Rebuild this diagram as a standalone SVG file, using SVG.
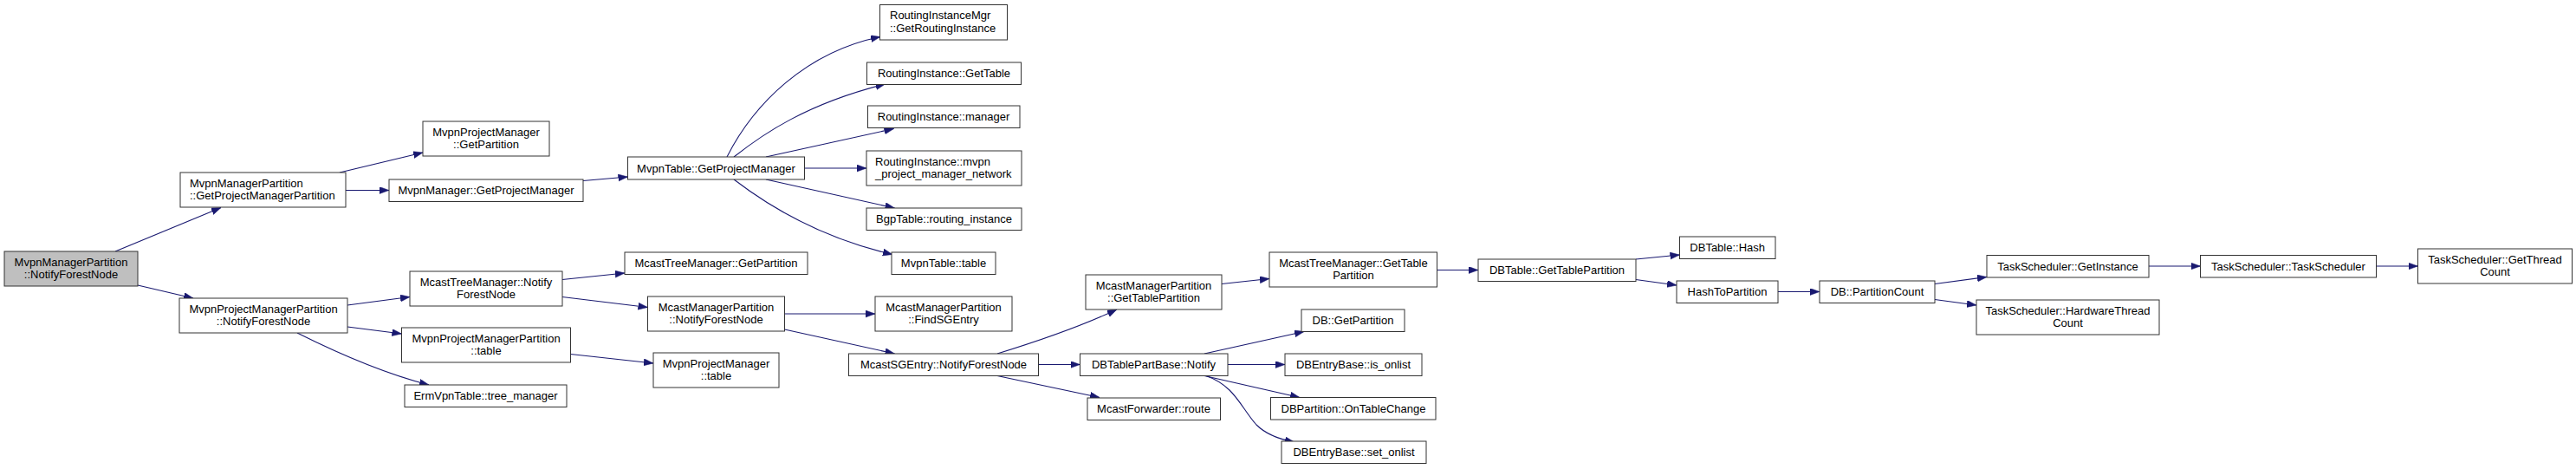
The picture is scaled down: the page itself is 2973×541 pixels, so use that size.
<svg xmlns="http://www.w3.org/2000/svg" width="2973" height="541" viewBox="0 0 2973 541">
<style>
.n rect{fill:#ffffff;stroke:#333333;stroke-width:1}
.n.root rect{fill:#bfbfbf}
.n text{font-family:"Liberation Sans",Arial,sans-serif;font-size:13px;fill:#000000;text-anchor:middle}
.n text.l{text-anchor:start}
.e path{fill:none;stroke:#191970;stroke-width:1.1}
</style>
<defs>
<marker id="arr" markerUnits="userSpaceOnUse" markerWidth="12" markerHeight="9" refX="11" refY="4" orient="auto">
<path d="M0,0 L11,4 L0,8 z" fill="#191970" stroke="#191970" stroke-width="0.5"/>
</marker>
</defs>
<rect x="0" y="0" width="2973" height="541" fill="#ffffff"/>
<g id="edges" class="e">
<path marker-end="url(#arr)" d="M133,290 L255,239.5"/>
<path marker-end="url(#arr)" d="M159,329 L223,344"/>
<path marker-end="url(#arr)" d="M392,199 L488,176"/>
<path marker-end="url(#arr)" d="M399,219.5 L449,219.5"/>
<path marker-end="url(#arr)" d="M401,352 L473,342.5"/>
<path marker-end="url(#arr)" d="M401,377 L463.5,385"/>
<path marker-end="url(#arr)" d="M343,384 C385,405 440,430 495,444"/>
<path marker-end="url(#arr)" d="M673,208.5 L724.5,204"/>
<path marker-end="url(#arr)" d="M839,181 C870,120 930,60 1016,42.5"/>
<path marker-end="url(#arr)" d="M847,181 C880,155 930,120 1021.5,97"/>
<path marker-end="url(#arr)" d="M884,181 L1031.5,148.5"/>
<path marker-end="url(#arr)" d="M928.5,194 L1000,194"/>
<path marker-end="url(#arr)" d="M884,207 L1032.5,240"/>
<path marker-end="url(#arr)" d="M847,207 C890,240 950,275 1030,293.5"/>
<path marker-end="url(#arr)" d="M649,322.5 L721,315"/>
<path marker-end="url(#arr)" d="M649,342.5 L747.5,354.5"/>
<path marker-end="url(#arr)" d="M658.5,408.5 L754,419"/>
<path marker-end="url(#arr)" d="M905.5,362 L1010,362"/>
<path marker-end="url(#arr)" d="M905.5,380 L1032.5,408"/>
<path marker-end="url(#arr)" d="M1151,408 C1190,396 1240,380 1289,357"/>
<path marker-end="url(#arr)" d="M1198.5,420.5 L1246.5,420.5"/>
<path marker-end="url(#arr)" d="M1151,433.5 L1269,458.5"/>
<path marker-end="url(#arr)" d="M1410,327.5 L1465,321.5"/>
<path marker-end="url(#arr)" d="M1390,408 L1505,382.5"/>
<path marker-end="url(#arr)" d="M1417,420.5 L1483,420.5"/>
<path marker-end="url(#arr)" d="M1390,433.5 L1500,458.5"/>
<path marker-end="url(#arr)" d="M1392,433.5 C1425,445 1432,470 1450,490 C1462,502 1478,507 1494,510"/>
<path marker-end="url(#arr)" d="M1658.5,311.5 L1706,311.5"/>
<path marker-end="url(#arr)" d="M1888,299 L1938.5,294"/>
<path marker-end="url(#arr)" d="M1888,322.5 L1935,329"/>
<path marker-end="url(#arr)" d="M2052,336.5 L2100,336.5"/>
<path marker-end="url(#arr)" d="M2233,327.5 L2293,319.5"/>
<path marker-end="url(#arr)" d="M2233,345.5 L2281,352"/>
<path marker-end="url(#arr)" d="M2480,307 L2539.5,307"/>
<path marker-end="url(#arr)" d="M2742.5,307 L2790.5,307"/>
</g>
<g id="n0" class="n root"><rect x="5" y="290" width="154" height="40"/><text x="82" y="306.5">MvpnManagerPartition</text><text x="82" y="321">::NotifyForestNode</text></g>
<g id="n1" class="n"><rect x="208" y="199" width="191" height="40"/><text class="l" x="219" y="215.5">MvpnManagerPartition</text><text class="l" x="219" y="230">::GetProjectManagerPartition</text></g>
<g id="n2" class="n"><rect x="207" y="344" width="194" height="40"/><text x="304" y="360.5">MvpnProjectManagerPartition</text><text x="304" y="375">::NotifyForestNode</text></g>
<g id="n3" class="n"><rect x="488" y="140" width="146" height="40"/><text x="561" y="156.5">MvpnProjectManager</text><text x="561" y="171">::GetPartition</text></g>
<g id="n4" class="n"><rect x="449" y="207" width="224" height="25.5"/><text x="561" y="224">MvpnManager::GetProjectManager</text></g>
<g id="n5" class="n"><rect x="724.5" y="181" width="204" height="26"/><text x="826.5" y="198.5">MvpnTable::GetProjectManager</text></g>
<g id="n6" class="n"><rect x="1015.5" y="5.5" width="147" height="40.5"/><text class="l" x="1027" y="22">RoutingInstanceMgr</text><text class="l" x="1027" y="36.5">::GetRoutingInstance</text></g>
<g id="n7" class="n"><rect x="1000.5" y="72" width="178" height="25.5"/><text x="1089.5" y="89">RoutingInstance::GetTable</text></g>
<g id="n8" class="n"><rect x="1001.5" y="122" width="175.5" height="25.5"/><text x="1089" y="139">RoutingInstance::manager</text></g>
<g id="n9" class="n"><rect x="1000" y="174" width="179" height="40"/><text class="l" x="1010" y="190.5">RoutingInstance::mvpn</text><text class="l" x="1010" y="205">_project_manager_network</text></g>
<g id="n10" class="n"><rect x="1000" y="240" width="179" height="25.5"/><text x="1089.5" y="257">BgpTable::routing_instance</text></g>
<g id="n11" class="n"><rect x="1029" y="291" width="120" height="25.5"/><text x="1089" y="308">MvpnTable::table</text></g>
<g id="n12" class="n"><rect x="473" y="313" width="176" height="40"/><text x="561" y="329.5">McastTreeManager::Notify</text><text x="561" y="344">ForestNode</text></g>
<g id="n13" class="n"><rect x="463.5" y="378" width="195" height="40"/><text x="561" y="394.5">MvpnProjectManagerPartition</text><text x="561" y="409">::table</text></g>
<g id="n14" class="n"><rect x="467" y="444" width="187" height="25.5"/><text x="560.5" y="461">ErmVpnTable::tree_manager</text></g>
<g id="n15" class="n"><rect x="721" y="291" width="211" height="25.5"/><text x="826.5" y="308">McastTreeManager::GetPartition</text></g>
<g id="n16" class="n"><rect x="747.5" y="342" width="158" height="40"/><text x="826.5" y="358.5">McastManagerPartition</text><text x="826.5" y="373">::NotifyForestNode</text></g>
<g id="n17" class="n"><rect x="754" y="407" width="145" height="40"/><text x="826.5" y="423.5">MvpnProjectManager</text><text x="826.5" y="438">::table</text></g>
<g id="n18" class="n"><rect x="1010" y="342" width="158" height="40"/><text x="1089" y="358.5">McastManagerPartition</text><text x="1089" y="373">::FindSGEntry</text></g>
<g id="n19" class="n"><rect x="979.5" y="408" width="219" height="25.5"/><text x="1089" y="425">McastSGEntry::NotifyForestNode</text></g>
<g id="n20" class="n"><rect x="1253" y="317" width="157" height="40"/><text x="1331.5" y="333.5">McastManagerPartition</text><text x="1331.5" y="348">::GetTablePartition</text></g>
<g id="n21" class="n"><rect x="1246.5" y="408" width="170.5" height="25.5"/><text x="1331.5" y="425">DBTablePartBase::Notify</text></g>
<g id="n22" class="n"><rect x="1255" y="459" width="153.5" height="25.5"/><text x="1331.5" y="476">McastForwarder::route</text></g>
<g id="n23" class="n"><rect x="1465" y="291" width="193.5" height="40"/><text x="1562" y="307.5">McastTreeManager::GetTable</text><text x="1562" y="322">Partition</text></g>
<g id="n24" class="n"><rect x="1502" y="357" width="119" height="25.5"/><text x="1561.5" y="374">DB::GetPartition</text></g>
<g id="n25" class="n"><rect x="1483" y="408" width="158" height="25.5"/><text x="1562" y="425">DBEntryBase::is_onlist</text></g>
<g id="n26" class="n"><rect x="1466.5" y="458.5" width="190.5" height="25.5"/><text x="1562" y="475.5">DBPartition::OnTableChange</text></g>
<g id="n27" class="n"><rect x="1479" y="509" width="167" height="25.5"/><text x="1562.5" y="526">DBEntryBase::set_onlist</text></g>
<g id="n28" class="n"><rect x="1706" y="299" width="182" height="25.5"/><text x="1797" y="316">DBTable::GetTablePartition</text></g>
<g id="n29" class="n"><rect x="1938.5" y="273" width="110.5" height="25.5"/><text x="1993.7" y="290">DBTable::Hash</text></g>
<g id="n30" class="n"><rect x="1935" y="324" width="117" height="25.5"/><text x="1993.5" y="341">HashToPartition</text></g>
<g id="n31" class="n"><rect x="2100" y="324" width="133" height="25.5"/><text x="2166.5" y="341">DB::PartitionCount</text></g>
<g id="n32" class="n"><rect x="2293" y="294.5" width="187" height="25.5"/><text x="2386.5" y="311.5">TaskScheduler::GetInstance</text></g>
<g id="n33" class="n"><rect x="2281" y="346" width="211" height="40"/><text x="2386.5" y="362.5">TaskScheduler::HardwareThread</text><text x="2386.5" y="377">Count</text></g>
<g id="n34" class="n"><rect x="2539.5" y="294.5" width="203" height="25.5"/><text x="2641" y="311.5">TaskScheduler::TaskScheduler</text></g>
<g id="n35" class="n"><rect x="2790.5" y="287" width="178" height="40"/><text x="2879.5" y="303.5">TaskScheduler::GetThread</text><text x="2879.5" y="318">Count</text></g>
</svg>
